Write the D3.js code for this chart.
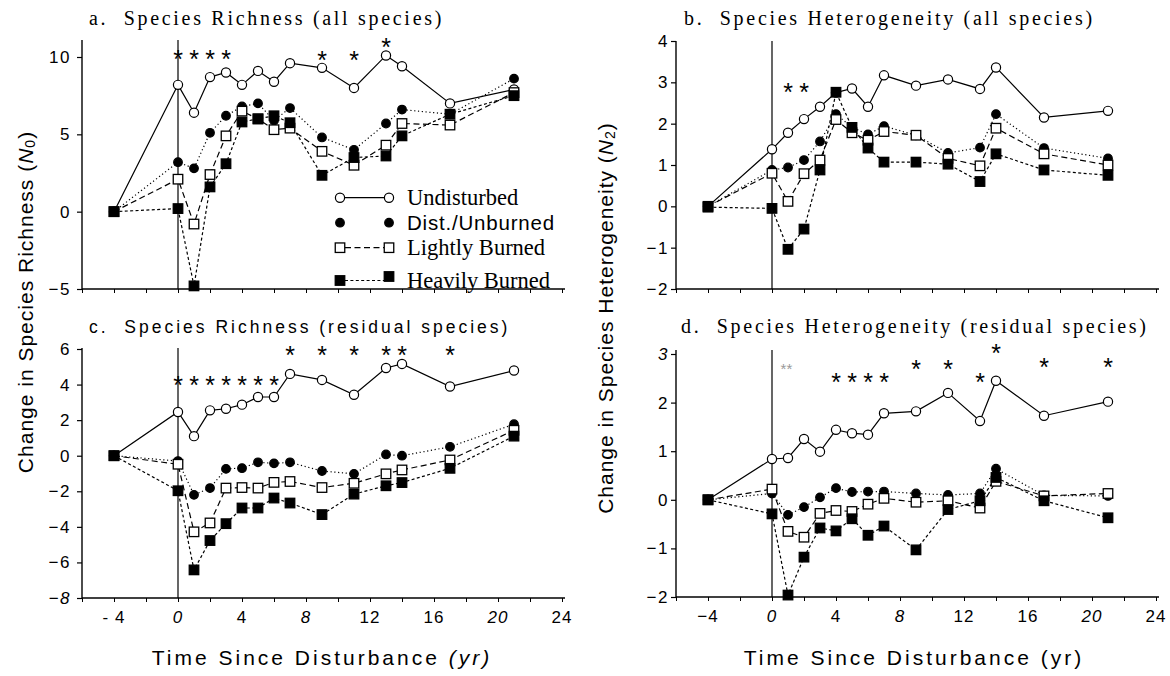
<!DOCTYPE html>
<html><head><meta charset="utf-8">
<script src="https://cdn.jsdelivr.net/npm/d3@7"></script>
<style>body{margin:0;background:#fff}svg{display:block}</style>
</head><body><svg id="c" width="1170" height="676"></svg>
<script>
// ---------- DATA ----------
const years = [-4, 0, 1, 2, 3, 4, 5, 6, 7, 9, 11, 13, 14, 17, 21];
const seriesNames = ["Undisturbed", "Dist./Unburned", "Lightly Burned", "Heavily Burned"];

// a. Species Richness (all species)
const aUndisturbed   = [0, 8.2, 6.4, 8.7, 9.0, 8.2, 9.1, 8.4, 9.6, 9.3, 8.0, 10.1, 9.4, 7.0, 7.9];
const aDistUnburned  = [0, 3.2, 2.8, 5.1, 6.2, 6.8, 7.0, 5.9, 6.7, 4.8, 4.0, 5.7, 6.6, 6.3, 8.6];
const aLightlyBurned = [0, 2.1, -0.8, 2.4, 4.9, 6.5, 6.0, 5.3, 5.4, 3.9, 3.0, 4.3, 5.7, 5.6, 7.7];
const aHeavilyBurned = [0, 0.2, -4.8, 1.6, 3.1, 5.8, 6.0, 6.2, 5.75, 2.35, 3.5, 3.6, 4.9, 6.3, 7.5];
const aStarX = [0, 1, 2, 3, 9, 11, 13];
const aStarY = [10.2, 10.2, 10.2, 10.2, 10.1, 10.1, 11.0];

// b. Species Heterogeneity (all species)
const bUndisturbed   = [0, 1.38, 1.78, 2.11, 2.41, 2.75, 2.85, 2.41, 3.17, 2.92, 3.07, 2.84, 3.36, 2.15, 2.31];
const bDistUnburned  = [0, 0.88, 0.94, 1.12, 1.57, 2.23, 1.91, 1.74, 1.94, 1.72, 1.29, 1.42, 2.23, 1.41, 1.16];
const bLightlyBurned = [0, 0.80, 0.12, 0.79, 1.12, 2.10, 1.78, 1.60, 1.81, 1.72, 1.16, 0.98, 1.89, 1.27, 1.00];
const bHeavilyBurned = [-0.02, -0.05, -1.04, -0.55, 0.88, 2.76, 1.91, 1.41, 1.07, 1.07, 1.02, 0.60, 1.27, 0.88, 0.75];
const bStarX = [1, 2];
const bStarY = [2.89, 2.89];

// c. Species Richness (residual species)
const cUndisturbed   = [0, 2.46, 1.1, 2.55, 2.64, 2.87, 3.3, 3.3, 4.6, 4.26, 3.43, 4.93, 5.16, 3.89, 4.79];
const cDistUnburned  = [0, -0.3, -2.2, -1.82, -0.74, -0.7, -0.37, -0.43, -0.37, -0.86, -1.02, 0.07, 0.0, 0.5, 1.77];
const cLightlyBurned = [0, -0.48, -4.28, -3.78, -1.82, -1.79, -1.82, -1.5, -1.45, -1.79, -1.55, -1.02, -0.8, -0.24, 1.43];
const cHeavilyBurned = [0, -1.97, -6.42, -4.77, -3.82, -2.94, -2.94, -2.38, -2.66, -3.31, -2.16, -1.69, -1.51, -0.71, 1.1];
const cStarX = [0, 1, 2, 3, 4, 5, 6, 7, 9, 11, 13, 14, 17];
const cStarY = [4.25, 4.25, 4.25, 4.25, 4.25, 4.25, 4.25, 5.94, 5.94, 5.94, 5.94, 5.94, 5.94];

// d. Species Heterogeneity (residual species)
const dUndisturbed   = [0, 0.84, 0.86, 1.25, 0.99, 1.44, 1.37, 1.34, 1.78, 1.82, 2.2, 1.62, 2.45, 1.73, 2.02];
const dDistUnburned  = [0, 0.13, -0.31, -0.15, 0.05, 0.24, 0.16, 0.17, 0.17, 0.13, 0.1, 0.13, 0.64, 0.09, 0.08];
const dLightlyBurned = [0, 0.22, -0.65, -0.77, -0.28, -0.22, -0.24, -0.09, 0.03, -0.05, -0.02, -0.17, 0.38, 0.08, 0.13];
const dHeavilyBurned = [0, -0.29, -1.96, -1.18, -0.58, -0.64, -0.39, -0.73, -0.54, -1.03, -0.2, -0.02, 0.46, -0.02, -0.37];
const dStarX = [4, 5, 6, 7, 9, 11, 13, 14, 17, 21];
const dStarY = [2.53, 2.53, 2.53, 2.53, 2.79, 2.79, 2.53, 3.13, 2.84, 2.84];
const dFaintStarX = [0.9];
const dFaintStarY = [2.76];

// axis ticks
const xTickValues = [-4, 0, 4, 8, 12, 16, 20, 24];
const xTickLabelsLeft  = ["- 4", "0", "4", "8", "12", "16", "20", "24"];
const xTickLabelsRight = ["−4", "0", "4", "8", "12", "16", "20", "24"];
const xTickItalic = [false, true, false, true, false, false, true, false];
const aYTicks = [10, 5, 0, -5];
const bYTicks = [4, 3, 2, 1, 0, -1, -2];
const cYTicks = [6, 4, 2, 0, -2, -4, -6, -8];
const dYTicks = [3, 2, 1, 0, -1, -2];
const cYItalic = [-8];
const dYItalic = [3];

// ---------- STYLE / LAYOUT ----------
const SERIF = "'Liberation Serif','Times New Roman',serif";
const SANS = "'Liberation Sans',Arial,sans-serif";
const styles = [
  {marker: "circle", fill: "#fff", dash: null},
  {marker: "circle", fill: "#000", dash: "1.2,2.6"},
  {marker: "square", fill: "#fff", dash: "6,3.5"},
  {marker: "square", fill: "#000", dash: "3,2.4"}
];

const svg = d3.select("#c");

function drawMarker(g, type, fill, cx, cy) {
  if (type === "circle") {
    g.append("circle").attr("cx", cx).attr("cy", cy).attr("r", fill === "#000" ? 4.3 : 4.6)
      .attr("fill", fill).attr("stroke", "#000").attr("stroke-width", 1.2);
  } else {
    const s = 9.5;
    g.append("rect").attr("x", cx - s / 2).attr("y", cy - s / 2).attr("width", s).attr("height", s)
      .attr("fill", fill).attr("stroke", "#000").attr("stroke-width", 1.3);
  }
}

function panel(cfg) {
  const x = d3.scaleLinear().domain([-6, 24]).range(cfg.xr);
  const y = d3.scaleLinear().domain(cfg.yd).range(cfg.yr);
  const g = svg.append("g");
  const axisY = cfg.yr[0];
  const x0 = x(-6);

  // x axis ticks (minor every 2)
  const xa = d3.axisBottom(x).tickValues(d3.range(-6, 25, 2)).tickSize(4).tickFormat("");
  const gx = g.append("g").attr("transform", `translate(0,${axisY})`).call(xa);
  gx.select(".domain").remove();
  gx.selectAll("line").attr("stroke", "#000").attr("stroke-width", 1);
  g.append("line").attr("x1", x0).attr("x2", x(24) + 3).attr("y1", axisY).attr("y2", axisY)
    .attr("stroke", "#000").attr("stroke-width", 1.4);

  // y axis
  const ya = d3.axisLeft(y).tickValues(cfg.yTicks).tickSize(5)
    .tickFormat(d => (d < 0 ? "−" + Math.abs(d) : "" + d));
  const gy = g.append("g").attr("transform", `translate(${x0},0)`).call(ya);
  gy.select(".domain").remove();
  gy.selectAll("line").attr("stroke", "#000").attr("stroke-width", 1.2);
  gy.selectAll("text").attr("font-family", SANS).attr("font-size", 17).attr("fill", "#000")
    .attr("letter-spacing", 1.5).attr("x", -cfg.yLabGap)
    .attr("font-style", d => (cfg.yItalic || []).includes(d) ? "italic" : "normal");
  g.append("line").attr("x1", x0).attr("x2", x0).attr("y1", cfg.axisTop).attr("y2", axisY)
    .attr("stroke", "#000").attr("stroke-width", 1.4);

  // zero line
  g.append("line").attr("x1", x(0)).attr("x2", x(0)).attr("y1", cfg.axisTop).attr("y2", axisY)
    .attr("stroke", "#000").attr("stroke-width", 1.2);

  // x tick labels
  if (cfg.xLabels) {
    cfg.xLabels.forEach((t, i) => {
      g.append("text").attr("x", x(xTickValues[i])).attr("y", axisY + 25)
        .attr("text-anchor", "middle").attr("font-family", SANS).attr("font-size", 17)
        .attr("letter-spacing", 1).attr("font-style", xTickItalic[i] ? "italic" : "normal")
        .text(t);
    });
  }

  // lines
  const line = d3.line().x((d, i) => x(years[i])).y(d => y(d));
  cfg.series.forEach((s, k) => {
    g.append("path").datum(s).attr("d", line).attr("fill", "none").attr("stroke", "#000")
      .attr("stroke-width", 1.2).attr("stroke-dasharray", styles[k].dash);
  });
  cfg.series.forEach((s, k) => {
    s.forEach((v, i) => drawMarker(g, styles[k].marker, styles[k].fill, x(years[i]), y(v)));
  });

  // asterisks
  cfg.starX.forEach((sx, i) => {
    g.append("text").attr("x", x(sx)).attr("y", y(cfg.starY[i]) + 14)
      .attr("text-anchor", "middle").attr("font-family", SANS).attr("font-size", 25).text("*");
  });
  if (cfg.faintX) {
    cfg.faintX.forEach((sx, i) => {
      g.append("text").attr("x", x(sx)).attr("y", y(cfg.faintY[i]) + 8)
        .attr("text-anchor", "middle").attr("font-family", SANS).attr("font-size", 15)
        .attr("fill", "#999").text("**");
    });
  }

  // title
  g.append("text").attr("x", cfg.titleX).attr("y", cfg.titleY)
    .attr("font-family", cfg.titleFont === "sans" ? SANS : SERIF)
    .attr("font-size", cfg.titleFont === "sans" ? 17.5 : 20)
    .attr("letter-spacing", cfg.titleFont === "sans" ? 3 : 2.7)
    .attr("xml:space", "preserve").style("white-space", "pre")
    .text(cfg.title);
  return {g, x, y};
}

const pa = panel({xr: [82, 562], yd: [-5, 10], yr: [289, 57], axisTop: 40, yTicks: aYTicks, yLabGap: 11,
  series: [aUndisturbed, aDistUnburned, aLightlyBurned, aHeavilyBurned], starX: aStarX, starY: aStarY,
  title: "a.  Species Richness (all species)", titleX: 89, titleY: 25, titleFont: "serif"});
const pb = panel({xr: [676, 1156], yd: [-2, 4], yr: [289, 41], axisTop: 41, yTicks: bYTicks, yLabGap: 7,
  series: [bUndisturbed, bDistUnburned, bLightlyBurned, bHeavilyBurned], starX: bStarX, starY: bStarY,
  title: "b.  Species Heterogeneity (all species)", titleX: 684, titleY: 25, titleFont: "serif"});
const pc = panel({xr: [82, 562], yd: [-8, 6], yr: [598, 349], axisTop: 348, yTicks: cYTicks, yLabGap: 11,
  yItalic: cYItalic, xLabels: xTickLabelsLeft,
  series: [cUndisturbed, cDistUnburned, cLightlyBurned, cHeavilyBurned], starX: cStarX, starY: cStarY,
  title: "c.  Species Richness (residual species)", titleX: 89, titleY: 333, titleFont: "sans"});
const pd = panel({xr: [676, 1156], yd: [-2, 3], yr: [597, 354], axisTop: 350, yTicks: dYTicks, yLabGap: 7,
  yItalic: dYItalic, xLabels: xTickLabelsRight,
  series: [dUndisturbed, dDistUnburned, dLightlyBurned, dHeavilyBurned], starX: dStarX, starY: dStarY,
  faintX: dFaintStarX, faintY: dFaintStarY,
  title: "d.  Species Heterogeneity (residual species)", titleX: 681, titleY: 333, titleFont: "serif"});

// legend (inside panel a)
const legRows = [197.7, 222.7, 247.7, 280.5];
const leg = svg.append("g");
seriesNames.forEach((name, k) => {
  const cy = legRows[k];
  if (k !== 1) {
    leg.append("line").attr("x1", 345).attr("x2", 384).attr("y1", cy).attr("y2", cy)
      .attr("stroke", "#000").attr("stroke-width", 1.2).attr("stroke-dasharray", styles[k].dash);
  }
  drawMarker(leg, styles[k].marker, styles[k].fill, 340, cy);
  drawMarker(leg, styles[k].marker, styles[k].fill, 389, k === 3 ? cy - 4 : cy);
  leg.append("text").attr("x", 407).attr("y", cy + 7.5)
    .attr("font-family", k === 1 ? SANS : SERIF).attr("font-size", k === 1 ? 20.5 : 22.5)
    .attr("letter-spacing", k === 1 ? 0.8 : 0).text(name);
});

// axis titles
function xTitle(cx) {
  const t = svg.append("text").attr("x", cx).attr("y", 665).attr("text-anchor", "middle")
    .attr("font-family", SANS).attr("font-size", 21).attr("letter-spacing", 3);
  return t;
}
const xt1 = xTitle(322);
xt1.append("tspan").text("Time Since Disturbance ");
xt1.append("tspan").attr("font-style", "italic").text("(yr)");
xTitle(914).text("Time Since Disturbance (yr)");

function yTitle(cx, cy, main, sub) {
  const t = svg.append("text").attr("transform", `translate(${cx},${cy}) rotate(-90)`)
    .attr("text-anchor", "middle").attr("font-family", SANS).attr("font-size", 21)
    .attr("letter-spacing", 1).attr("dominant-baseline", "central");
  t.append("tspan").text(main + " (");
  t.append("tspan").attr("font-style", "italic").text("N");
  t.append("tspan").attr("font-size", 14).attr("dy", 5).text(sub);
  t.append("tspan").attr("dy", -5).text(")");
}
yTitle(25, 302, "Change in Species Richness", "0");
yTitle(605, 318, "Change in Species Heterogeneity", "2");
</script></body></html>
